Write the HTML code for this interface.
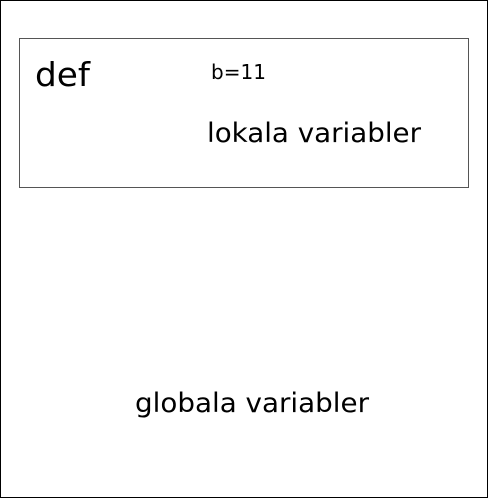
<!DOCTYPE html>
<html><head><style>
html,body{margin:0;padding:0;background:#fff;}
svg{display:block;}
text{font-family:"DejaVu Sans","Liberation Sans",sans-serif;fill:#000;}
</style></head><body>
<svg width="488" height="498" xmlns="http://www.w3.org/2000/svg">
<rect x="0.5" y="0.5" width="487" height="497" fill="#fff" stroke="#000" stroke-width="1"/>
<rect x="19.5" y="38.5" width="449" height="149" fill="#fff" stroke="#555" stroke-width="1"/>
<text x="35" y="86" font-size="33" textLength="55" lengthAdjust="spacingAndGlyphs">def</text>
<text x="211" y="79" font-size="20" textLength="55" lengthAdjust="spacingAndGlyphs">b=11</text>
<text x="207" y="142" font-size="27" textLength="214" lengthAdjust="spacingAndGlyphs">lokala variabler</text>
<text x="135" y="412" font-size="27" textLength="234" lengthAdjust="spacingAndGlyphs">globala variabler</text>
</svg>
</body></html>
